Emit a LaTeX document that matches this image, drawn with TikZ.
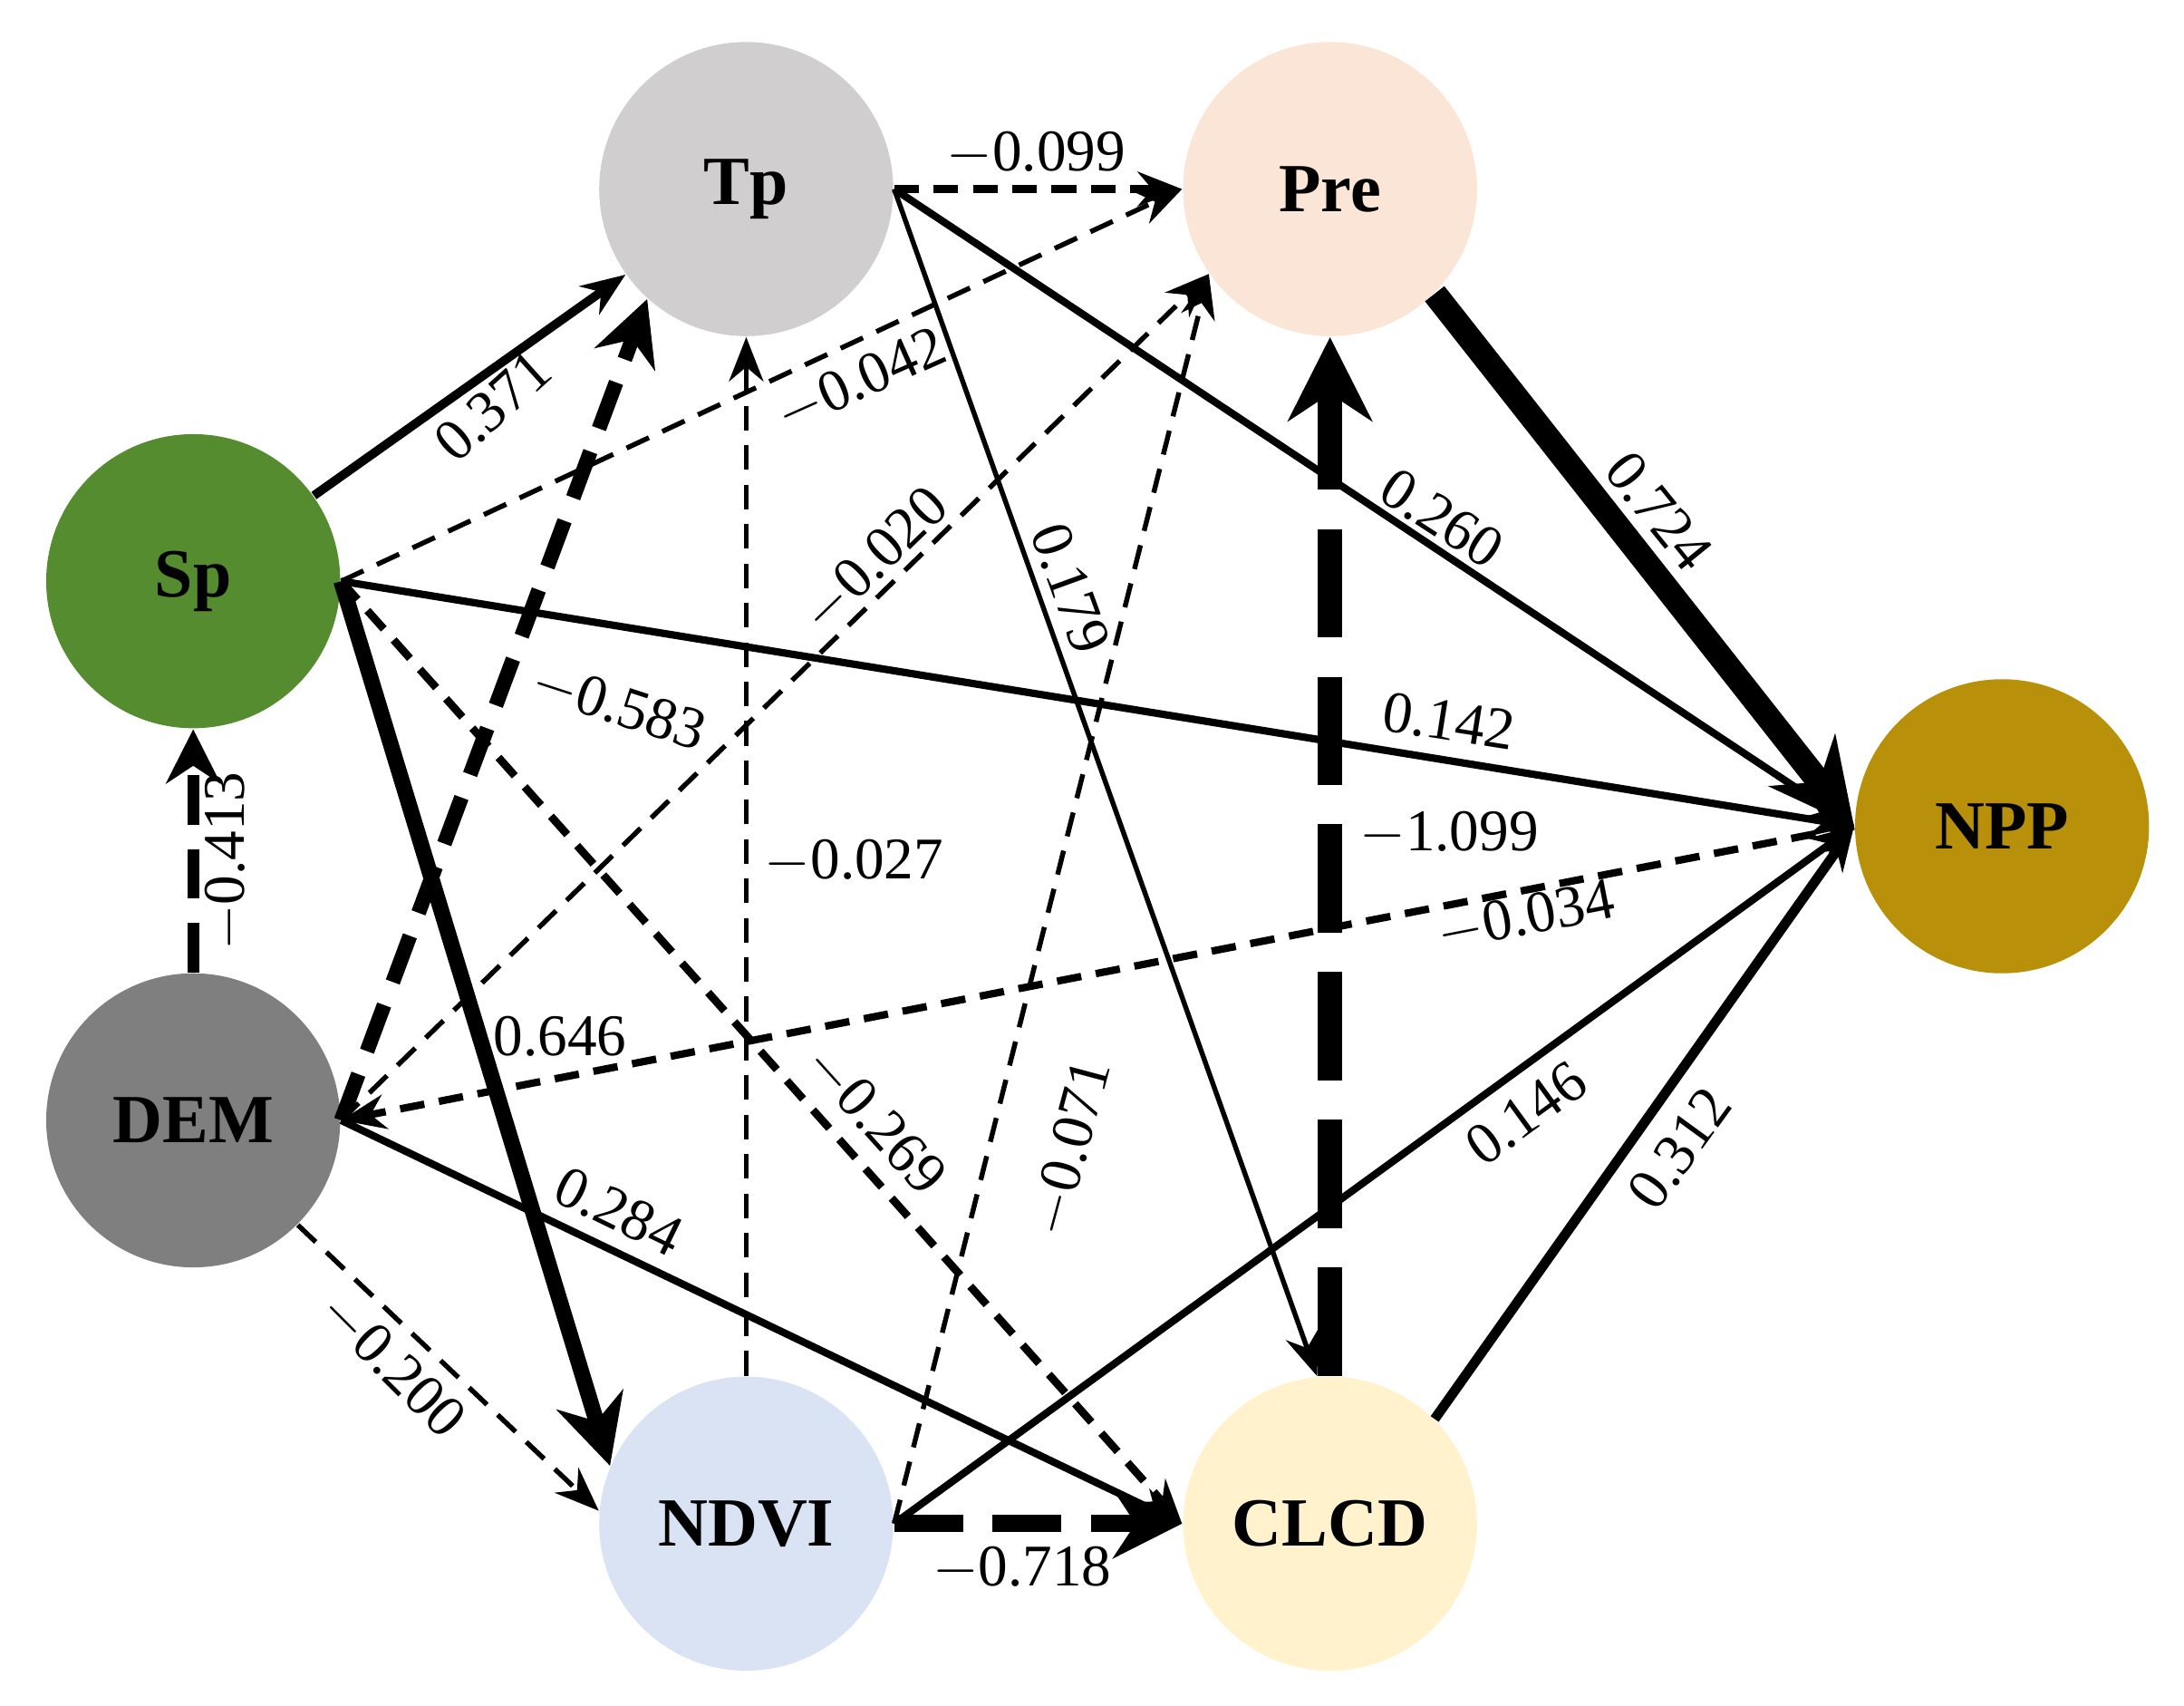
\documentclass[tikz,border=0pt]{standalone}
\usepackage{fontspec}
\setmainfont{Liberation Serif}
\usetikzlibrary{arrows.meta}
\begin{document}
\begin{tikzpicture}[
  nd/.style={circle,minimum size=2.1cm,inner sep=0pt,font=\fontsize{14}{16}\selectfont\bfseries},
  lb/.style={font=\fontsize{12}{14}\selectfont,inner sep=1pt},
  e/.style={-{Stealth[length=9pt,width=7pt]},line width=1pt},
  big/.style={-{Stealth[length=#1,width=#1]}},
  th/.style={line width=#1},
  ds/.style={dash pattern=on 5pt off 3pt},
  dk/.style={dash pattern=on 10pt off 5pt}
]
\useasboundingbox (0,0) rectangle (15.6,-12.18);
\definecolor{cSp}{HTML}{548C2F}
\definecolor{cDEM}{HTML}{7F7F7F}
\definecolor{cTp}{HTML}{D0CECE}
\definecolor{cPre}{HTML}{FBE5D6}
\definecolor{cND}{HTML}{DAE3F3}
\definecolor{cCL}{HTML}{FFF2CC}
\definecolor{cNPP}{HTML}{B8900A}
\node[nd,fill=cTp] (Tp) at (5.33,-1.35) {Tp};
\node[nd,fill=cPre] (Pre) at (9.5,-1.35) {Pre};
\node[nd,fill=cSp] (Sp) at (1.38,-4.15) {Sp};
\node[nd,fill=cDEM] (DEM) at (1.38,-8.0) {DEM};
\node[nd,fill=cND] (ND) at (5.33,-10.88) {NDVI};
\node[nd,fill=cCL] (CL) at (9.5,-10.88) {CLCD};
\node[nd,fill=cNPP] (NPP) at (14.3,-5.9) {NPP};

\draw[e,th=1.8pt] (Sp) -- (Tp);
\draw[e,ds] (Sp.east) -- (Pre.west);
\draw[e,th=1.5pt] (Sp.east) -- (NPP.west);
\draw[e,th=3.2pt,big=14pt] (Sp.east) -- (ND.157);
\draw[e,ds,th=1.6pt] (Sp.east) -- (CL.west);
\draw[e,dk,th=2.4pt,big=11pt] (DEM) -- (Sp);
\draw[e,dk,th=3pt,big=13pt] (DEM.east) -- (Tp.228);
\draw[e,ds] (DEM.east) -- (Pre.215);
\draw[e,ds,th=1.5pt] (NPP.west) -- (DEM.east);
\draw[e,th=1.5pt] (DEM.east) -- (CL.west);
\draw[e,ds] (DEM.-45) -- (ND.175);
\draw[e,ds] (ND) -- (Tp);
\draw[e,ds] (ND.east) -- (Pre.215);
\draw[e,ds,th=1.5pt] (Tp.east) -- (Pre.west);
\draw[e,th=1.5pt] (Tp.east) -- (NPP.west);
\draw[e,th=1pt] (Tp.east) -- (CL.95);
\draw[e,th=5pt,big=17pt] (Pre.-45) -- (NPP.west);
\draw[e,th=5pt,dash pattern=on 22pt off 8pt,big=17pt] (CL) -- (Pre);
\draw[e,th=1.5pt] (ND.east) -- (NPP.west);
\draw[e,th=2pt] (CL.45) -- (NPP.west);
\draw[e,th=3.5pt,dash pattern=on 14pt off 6pt,big=14pt] (ND.east) -- (CL.west);

\node[lb,rotate=42] (l1) at (3.52,-2.9) {0.371};
\node[lb,rotate=24] (l2) at (6.15,-2.72) {$-$0.042};
\node[lb,rotate=-9] (l3) at (10.35,-5.15) {0.142};
\node[lb] (l4) at (4.0,-7.4) {0.646};
\node[lb,rotate=-48] (l5) at (6.25,-8.0) {$-$0.269};
\node[lb,rotate=90] (l6) at (1.62,-6.15) {$-$0.413};
\node[lb,rotate=-18] (l7) at (4.42,-5.05) {$-$0.583};
\node[lb,rotate=11] (l8) at (10.9,-6.55) {$-$0.034};
\node[lb,rotate=-26] (l9) at (4.42,-8.65) {0.284};
\node[lb,rotate=-45] (l10) at (2.8,-9.75) {$-$0.200};
\node[lb] (l11) at (6.1,-6.15) {$-$0.027};
\node[lb,rotate=44] (l12) at (6.25,-4.0) {$-$0.020};
\node[lb,rotate=75] (l13) at (7.65,-8.2) {$-$0.071};
\node[lb] (l14) at (7.4,-1.1) {$-$0.099};
\node[lb,rotate=-33] (l15) at (10.3,-3.7) {0.260};
\node[lb,rotate=-70] (l16) at (7.65,-4.2) {0.179};
\node[lb,rotate=-51] (l17) at (11.85,-3.65) {0.724};
\node[lb] (l18) at (10.35,-5.95) {$-$1.099};
\node[lb,rotate=36] (l19) at (10.9,-7.95) {0.146};
\node[lb,rotate=54] (l20) at (12.0,-8.2) {0.312};
\node[lb] (l21) at (7.3,-11.2) {$-$0.718};
\end{tikzpicture}
\end{document}
